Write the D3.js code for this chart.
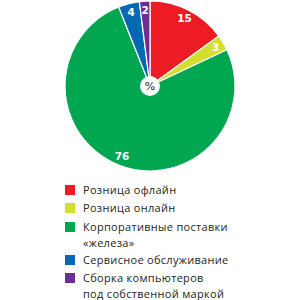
<!DOCTYPE html>
<html>
<head>
<meta charset="utf-8">
<script src="https://cdn.jsdelivr.net/npm/d3@7"></script>
<style>
  body { margin: 0; background: #fff; }
  svg { display: block; }
  .lbl { font-family: "DejaVu Sans", sans-serif; font-weight: bold; font-size: 10.5px; fill: #fff; }
  .leg { font-family: "Open Sans", sans-serif; font-size: 11px; fill: #231f20; letter-spacing: 0.3px; }
</style>
</head>
<body>
<script>
// Доли сегментов, %
const categories = ["Розница офлайн", "Розница онлайн", "Корпоративные поставки «железа»", "Сервисное обслуживание", "Сборка компьютеров под собственной маркой"];
const values = [15, 3, 76, 4, 2];
const colors = ["#ed1c24", "#d2df2c", "#00a650", "#0468b4", "#6b2f8f"];
const legendLines = [["Розница офлайн"], ["Розница онлайн"], ["Корпоративные поставки", "«железа»"], ["Сервисное обслуживание"], ["Сборка компьютеров", "под собственной маркой"]];

const w = 300, h = 300;
const cx = 150, cy = 86, r = 85;

const svg = d3.select("body").append("svg").attr("width", w).attr("height", h);

const pie = d3.pie().sort(null).value(d => d);
const arcs = pie(values);
const arc = d3.arc().innerRadius(0).outerRadius(r);
const labelArc = d3.arc().innerRadius(76).outerRadius(76);

const g = svg.append("g").attr("transform", `translate(${cx},${cy})`);

g.selectAll("path")
  .data(arcs)
  .join("path")
  .attr("d", arc)
  .attr("fill", (d, i) => colors[i])
  .attr("stroke", "#fff")
  .attr("stroke-width", 1.2);

g.selectAll("text.lbl")
  .data(arcs)
  .join("text")
  .attr("class", "lbl")
  .attr("transform", d => `translate(${labelArc.centroid(d)})`)
  .attr("text-anchor", "middle")
  .attr("dy", "0.36em")
  .text(d => d.data);

// центр с подписью %
g.append("circle").attr("r", 10).attr("fill", "#fff");
g.append("text")
  .attr("text-anchor", "middle")
  .attr("dy", "0.36em")
  .style("font-family", "DejaVu Sans, sans-serif")
  .style("font-size", "11px")
  .attr("fill", "#231f20")
  .text("%");

// легенда
const rowY = [190, 208, 227, 260, 278];
const leg = svg.append("g");
legendLines.forEach((lines, i) => {
  leg.append("rect")
    .attr("x", 65).attr("y", rowY[i] - 5)
    .attr("width", 10).attr("height", 10)
    .attr("fill", colors[i]);
  const t = leg.append("text").attr("class", "leg").attr("x", 83).attr("y", rowY[i]);
  lines.forEach((line, j) => {
    t.append("tspan").attr("x", 83).attr("dy", j === 0 ? "0.36em" : "16px").text(line);
  });
});
</script>
</body>
</html>
